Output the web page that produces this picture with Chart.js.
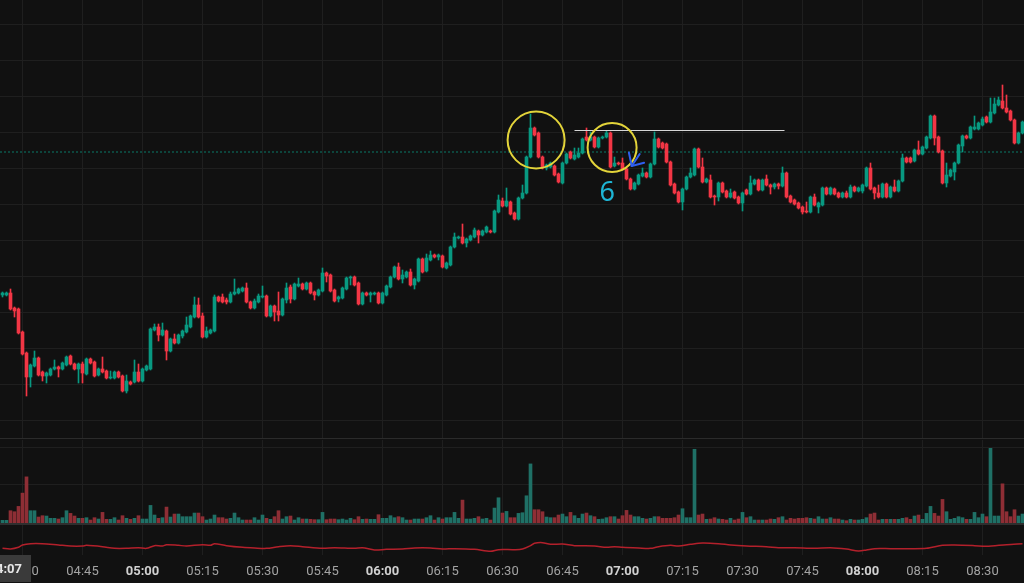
<!DOCTYPE html>
<html>
<head>
<meta charset="utf-8">
<script src="https://cdn.jsdelivr.net/npm/chart.js@4.4.1/dist/chart.umd.min.js"></script>
<style>
  html, body { margin: 0; padding: 0; background: #111111; }
  #wrap { position: relative; width: 1024px; height: 583px; background: #111111; overflow: hidden; }
  canvas { position: absolute; left: 0; }
  #price { top: 0; }
  #vol { top: 440px; }
  #ind { top: 525px; }
  .sep { position: absolute; left: 0; width: 1024px; height: 1px; background: #2b2b2b; }
</style>
</head>
<body>
<div id="wrap">
  <canvas id="price" width="1024" height="438"></canvas>
  <div class="sep" style="top:438px"></div>
  <canvas id="vol" width="1024" height="83"></canvas>
  <div class="sep" style="top:523px;height:2px;background:#2e2e2e"></div>
  <canvas id="ind" width="1024" height="58"></canvas>
</div>
<script>
// 1-minute candles, 04:25 .. 08:40 (price in chart units, no price scale shown)
const START_TIME = "04:25";
const open = [
  145,145,147,132,131,108,87,63,74,82, 68,64,65,71,73,71,75,84,76,71,
  76,66,81,78,65,71,69,62,62,68, 64,49,58,58,68,59,70,71,110,113,
  105,109,89,101,97,104,108,113,123,135, 124,103,107,109,143,143,140,138,146,147,
  149,152,138,132,138,143,144,124,134,129, 125,140,153,141,154,156,151,157,148,145,
  149,167,165,150,141,142,151,162,163,157, 136,147,145,146,147,137,145,153,163,173,
  161,163,168,155,159,181,169,180,185,183, 184,172,175,193,202,203,197,200,203,209,
  205,208,209,208,228,239,234,238,227,221, 242,247,283,312,307,283,272,273,274,266,
  257,277,288,281,283,287,303,300,303,293, 302,303,307,274,277,277,271,261,251,256,
  264,267,263,276,301,297,296,278,256,248, 238,251,263,265,291,273,258,260,244,243,
  257,249,243,248,243,237,250,246,256,260, 250,261,255,253,256,254,267,244,240,237,
  233,229,228,243,233,235,252,246,251,247, 243,247,243,253,249,249,254,272,252,247,
  243,256,243,253,249,259,282,282,279,290, 286,292,302,324,303,289,257,264,268,277,
  294,304,302,311,311,315,323,318,327,335, 339,332,329,320,297,307
];
const high = [
  148,148,151,133,132,109,88,76,89,83, 69,68,72,80,74,78,84,85,77,77,
  78,82,82,79,72,83,70,69,69,69, 65,65,59,80,76,72,75,112,116,116,
  117,110,102,106,106,110,123,125,143,142, 127,113,111,145,144,146,142,148,161,152,
  153,157,139,141,146,154,145,135,135,148, 142,157,155,157,162,157,158,158,149,151,
  172,168,166,151,144,153,163,164,164,158, 148,148,148,148,148,148,155,164,174,177,
  170,169,171,162,182,182,186,189,186,186, 185,178,194,207,204,216,202,205,212,210,
  210,214,210,230,245,242,252,239,228,243, 255,284,326,313,308,284,276,278,275,267,
  278,287,289,292,292,302,312,308,304,303, 304,309,308,283,278,282,272,262,258,266,
  272,268,277,308,302,298,297,279,257,249, 252,264,272,292,292,282,262,265,245,258,
  258,250,251,249,244,248,251,264,261,261, 261,265,256,257,257,273,268,245,241,238,
  234,238,244,246,238,253,253,253,252,248, 248,249,255,254,253,256,273,277,253,255,
  257,257,254,260,260,286,283,283,291,299, 294,304,325,325,304,290,277,271,278,296,
  305,305,314,324,318,323,324,342,342,343, 355,345,330,321,308,319
];
const low = [
  143,144,130,123,106,85,44,53,73,64, 59,57,64,70,63,70,74,75,70,57,
  57,65,76,63,64,67,61,61,61,62, 48,47,55,57,58,58,69,70,109,99,
  104,80,88,96,96,102,107,112,122,122, 102,102,106,108,138,137,136,137,145,146,
  148,137,131,131,137,142,123,123,119,119, 124,137,137,140,153,150,150,146,140,144,
  148,158,148,138,138,141,150,155,154,135, 135,144,138,145,136,136,144,152,162,160,
  157,162,154,151,158,167,168,179,182,180, 172,171,174,192,201,196,193,199,202,197,
  204,207,207,207,227,233,233,225,220,220, 241,246,282,304,282,271,270,272,264,257,
  256,276,281,280,282,286,299,299,292,292, 301,302,272,273,275,270,260,250,250,255,
  263,262,262,275,292,291,277,254,246,237, 230,250,262,264,272,257,257,242,235,239,
  247,242,242,241,236,229,245,245,255,249, 249,254,246,251,251,253,242,237,235,231,
  226,227,227,234,227,234,245,245,245,242, 242,242,242,248,248,247,253,250,241,242,
  242,242,242,248,248,258,277,277,278,285, 285,291,301,295,287,256,253,263,260,276,
  288,301,301,310,310,314,317,317,326,334, 331,327,319,296,296,306
];
const close = [
  147,147,131,129,107,86,63,75,82,65, 64,67,71,73,71,77,83,76,71,76,
  67,81,77,64,71,68,62,63,68,63, 49,59,56,68,59,71,74,111,113,105,
  110,89,101,97,105,109,115,124,135,123, 103,109,110,143,139,138,138,146,148,151,
  152,138,132,139,144,144,124,134,128,125, 141,152,141,156,156,151,157,147,145,150,
  167,164,149,139,143,152,162,163,155,136, 147,145,147,147,137,147,154,163,173,161,
  165,168,155,161,181,168,182,185,183,185, 173,177,193,203,203,197,201,204,210,205,
  209,213,208,229,240,234,239,226,221,242, 247,283,312,305,283,272,275,277,265,258,
  277,286,282,285,287,301,300,303,293,302, 303,307,273,277,276,271,261,251,257,265,
  267,263,276,301,293,292,278,255,247,238, 251,263,267,291,273,258,261,243,243,257,
  248,243,247,242,237,247,246,257,260,250, 260,255,253,256,254,267,243,238,236,232,
  228,228,243,235,237,252,246,252,246,243, 247,243,253,249,252,255,272,251,247,243,
  256,243,253,249,259,282,278,278,290,286, 293,303,324,302,288,257,265,270,277,295,
  304,302,313,313,317,321,318,328,336,340, 332,328,320,297,307,318
];
const volume = [
  8,8,37,34,50,90,139,37,37,18, 22,21,14,14,12,16,37,29,21,14,
  14,16,9,16,12,32,11,11,16,9, 22,14,11,14,22,12,12,53,24,14,
  16,48,18,27,27,19,19,19,30,30, 19,9,12,24,16,16,12,14,30,16,
  9,9,9,16,9,24,14,11,19,37, 12,19,21,9,16,12,12,11,10,10,
  32,10,12,12,10,12,9,14,10,19, 11,12,11,11,25,14,14,22,16,19,
  16,9,9,12,12,12,16,22,9,16, 12,16,16,32,14,69,12,12,14,19,
  12,14,9,45,76,30,35,16,16,29, 31,82,178,40,40,34,18,16,16,24,
  27,19,32,22,14,27,30,22,19,11, 12,16,19,19,12,22,38,24,19,19,
  14,12,14,19,19,14,14,14,16,24, 43,16,16,222,24,27,11,12,16,12,
  11,9,14,9,12,32,16,19,9,9, 9,9,12,11,16,19,9,14,12,14,
  14,16,14,12,19,12,12,16,12,12, 9,7,11,9,9,11,16,27,30,9,
  11,11,11,11,11,14,16,11,21,24, 11,29,50,29,21,71,34,11,14,19,
  16,11,11,32,16,27,19,225,21,21, 118,34,19,40,21,27
];
// lower indicator pane: [candle index, value]
const indIndex = [0,2,4,5,7,10,14,17,20,21,25,28,31,34,36,38,40,41,44,46,50,52,53,56,60,63,66,69,72,75,80,83,88,90,93,96,100,103,107,110,113,118,122,124,128,
  130,132,133,135,137,140,143,148,151,153,155,159,162,164,167,169,172,175,179,182,186,191,194,198,203,207,211,214,216,218,222,226,231,235,238,243,246,251,255];
const indValue = [20,18,23,30,34,34,30,27,27,29,25,20,20,22,20,28,27,31,29,27,31,29,34,28,23,21,20,25,28,25,20,22,20,22,15,17,18,21,21,18,19,17,11,16,16,
  18,28,35,37,32,33,28,27,23,25,23,21,20,25,29,27,32,36,34,30,27,25,22,22,20,22,18,12,15,19,19,19,20,29,30,28,26,31,34];

const timeLabels = ["04:30","04:45","05:00","05:15","05:30","05:45","06:00","06:15","06:30","06:45","07:00","07:15","07:30","07:45","08:00","08:15","08:30"];
const lastPrice = 288;
const resistance = { from: 143, to: 195.5, price: 309.5 };
const circles = [{ x: 133.4, y: 300, r: 28.5 }, { x: 152.4, y: 292.5, r: 24.5 }];
const arrowPts = { tip: [157.3, 274], up: [156.6, 287.5], right: [160.4, 277.3], tail: [159.3, 286] };
const noteText = { x: 151.2, y: 247, text: "6" };
const cursorTime = "04:07";

const UP = "#089981", DOWN = "#f23645";
const UP_VOL = "#1f7066", DOWN_VOL = "#8e2e35";
const GRID = "#1f1f1f";
const X_MIN = -0.625, X_MAX = 255.375;

const toMin = (t) => { const [h, m] = t.split(":").map(Number); return h * 60 + m; };
const tickIdx = timeLabels.map((t) => toMin(t) - toMin(START_TIME));
const labelFor = (v) => timeLabels[tickIdx.indexOf(v)] || "";
const isHour = (c) => (c.tick ? labelFor(c.tick.value).endsWith(":00") : false);
const isUp = (i) => close[i] >= open[i];
const idx = open.map((_, i) => i);

function xScale(showLabels) {
  return {
    type: "linear", min: X_MIN, max: X_MAX, offset: false,
    afterBuildTicks: (s) => { s.ticks = tickIdx.map((v) => ({ value: v })); },
    grid: { color: GRID, drawTicks: false, offset: false },
    border: { display: false },
    ticks: showLabels ? {
      padding: 9,
      color: (c) => (isHour(c) ? "#d1d1d1" : "#a3a3a3"),
      font: (c) => ({ family: "Roboto", size: 13, weight: isHour(c) ? "bold" : "normal" }),
      callback: (v) => labelFor(v),
      maxRotation: 0, autoSkip: false,
    } : { display: false },
    afterFit: (s) => {
      s.paddingLeft = 0;
      s.paddingRight = 0;
      if (showLabels) s.height = 28;
    },
  };
}

const common = {
  responsive: false, animation: false, devicePixelRatio: 1,
  layout: { padding: 0 },
  plugins: { legend: { display: false }, tooltip: { enabled: false } },
  events: [],
};

const annotations = {
  id: "annotations",
  afterDatasetsDraw(chart) {
    const { ctx, scales: { x, y } } = chart;
    ctx.save();
    ctx.strokeStyle = "#e3d43a";
    ctx.lineWidth = 2;
    circles.forEach((c) => {
      ctx.beginPath();
      ctx.arc(x.getPixelForValue(c.x), y.getPixelForValue(c.y), c.r, 0, Math.PI * 2);
      ctx.stroke();
    });
    const p = (pt) => [x.getPixelForValue(pt[0]), y.getPixelForValue(pt[1])];
    ctx.strokeStyle = "#2f5ff0";
    ctx.lineWidth = 2;
    ctx.lineCap = "round";
    const tip = p(arrowPts.tip);
    [arrowPts.up, arrowPts.right, arrowPts.tail].forEach((pt) => {
      const q = p(pt);
      ctx.beginPath(); ctx.moveTo(tip[0], tip[1]); ctx.lineTo(q[0], q[1]); ctx.stroke();
    });
    ctx.fillStyle = "#1eb4d4";
    ctx.font = "27px 'Noto Sans'";
    ctx.textAlign = "center";
    ctx.textBaseline = "middle";
    ctx.fillText(noteText.text, x.getPixelForValue(noteText.x), y.getPixelForValue(noteText.y));
    ctx.restore();
  },
};

new Chart(document.getElementById("price"), {
  data: {
    datasets: [
      {
        type: "line", order: 0,
        data: [{ x: resistance.from, y: resistance.price }, { x: resistance.to, y: resistance.price }],
        borderColor: "#d6d6d6", borderWidth: 1.2, pointRadius: 0,
      },
      {
        type: "bar", order: 2, grouped: false,
        data: idx.map((i) => ({ x: i, y: [low[i], high[i]] })),
        backgroundColor: idx.map((i) => (isUp(i) ? UP : DOWN)),
        barThickness: 1, borderWidth: 0,
      },
      {
        type: "bar", order: 1, grouped: false,
        data: idx.map((i) => ({ x: i, y: [open[i], close[i]] })),
        backgroundColor: idx.map((i) => (isUp(i) ? UP : DOWN)),
        barThickness: 3, borderWidth: 0, minBarLength: 1,
      },
      {
        type: "line", order: 5,
        data: [{ x: X_MIN, y: lastPrice }, { x: X_MAX, y: lastPrice }],
        borderColor: "#0b7a68", borderWidth: 1, borderDash: [2, 2], pointRadius: 0,
      },
    ],
  },
  options: {
    ...common,
    scales: {
      x: xScale(false),
      y: {
        min: 2, max: 440,
        afterBuildTicks: (s) => { s.ticks = [20, 56, 92, 128, 164, 200, 236, 272, 308, 344, 380, 416].map((v) => ({ value: v })); },
        grid: { color: GRID, drawTicks: false }, border: { display: false }, ticks: { display: false },
      },
    },
  },
  plugins: [annotations],
});

new Chart(document.getElementById("vol"), {
  type: "bar",
  data: {
    datasets: [{
      data: idx.map((i) => ({ x: i, y: volume[i] })),
      backgroundColor: idx.map((i) => (isUp(i) ? UP_VOL : DOWN_VOL)),
      barThickness: 3, borderWidth: 0,
    }],
  },
  options: {
    ...common,
    scales: {
      x: xScale(false),
      y: {
        min: 0, max: 250,
        afterBuildTicks: (s) => { s.ticks = [115, 228].map((v) => ({ value: v })); },
        grid: { color: GRID, drawTicks: false }, border: { display: false }, ticks: { display: false },
      },
    },
  },
});

const cursorBox = {
  id: "cursorBox",
  afterDraw(chart) {
    const { ctx } = chart;
    const top = chart.chartArea.bottom;
    ctx.save();
    ctx.fillStyle = "#3a3a3a";
    ctx.fillRect(0, top, 31, chart.height - top - 1);
    ctx.fillStyle = "#e6e6e6";
    ctx.font = "bold 13px Roboto";
    ctx.textAlign = "right";
    ctx.textBaseline = "middle";
    ctx.fillText(cursorTime, 22, top + 15);
    ctx.restore();
  },
};

new Chart(document.getElementById("ind"), {
  type: "line",
  data: {
    datasets: [{
      data: indIndex.map((k, j) => ({ x: k, y: indValue[j] })),
      borderColor: "#b3202b", borderWidth: 1.5, pointRadius: 0, tension: 0.3,
    }],
  },
  options: {
    ...common,
    scales: {
      x: xScale(true),
      y: { display: false, min: 0, max: 90 },
    },
  },
  plugins: [cursorBox],
});
</script>
</body>
</html>
